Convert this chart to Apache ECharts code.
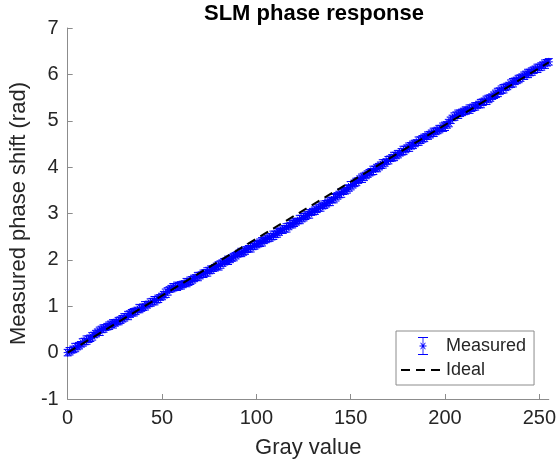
<!DOCTYPE html>
<html>
<head>
<meta charset="utf-8">
<script src="https://cdn.jsdelivr.net/npm/echarts@6/dist/echarts.min.js"></script>
<style>
  html, body { margin: 0; padding: 0; background: #fff; }
  #chart { width: 559px; height: 467px; }
</style>
</head>
<body>
<div id="chart"></div>
<script>
// gray levels 0..255
var grayLevels = [
  0, 1, 2, 3, 4, 5, 6, 7, 8, 9,
  10, 11, 12, 13, 14, 15, 16, 17, 18, 19,
  20, 21, 22, 23, 24, 25, 26, 27, 28, 29,
  30, 31, 32, 33, 34, 35, 36, 37, 38, 39,
  40, 41, 42, 43, 44, 45, 46, 47, 48, 49,
  50, 51, 52, 53, 54, 55, 56, 57, 58, 59,
  60, 61, 62, 63, 64, 65, 66, 67, 68, 69,
  70, 71, 72, 73, 74, 75, 76, 77, 78, 79,
  80, 81, 82, 83, 84, 85, 86, 87, 88, 89,
  90, 91, 92, 93, 94, 95, 96, 97, 98, 99,
  100, 101, 102, 103, 104, 105, 106, 107, 108, 109,
  110, 111, 112, 113, 114, 115, 116, 117, 118, 119,
  120, 121, 122, 123, 124, 125, 126, 127, 128, 129,
  130, 131, 132, 133, 134, 135, 136, 137, 138, 139,
  140, 141, 142, 143, 144, 145, 146, 147, 148, 149,
  150, 151, 152, 153, 154, 155, 156, 157, 158, 159,
  160, 161, 162, 163, 164, 165, 166, 167, 168, 169,
  170, 171, 172, 173, 174, 175, 176, 177, 178, 179,
  180, 181, 182, 183, 184, 185, 186, 187, 188, 189,
  190, 191, 192, 193, 194, 195, 196, 197, 198, 199,
  200, 201, 202, 203, 204, 205, 206, 207, 208, 209,
  210, 211, 212, 213, 214, 215, 216, 217, 218, 219,
  220, 221, 222, 223, 224, 225, 226, 227, 228, 229,
  230, 231, 232, 233, 234, 235, 236, 237, 238, 239,
  240, 241, 242, 243, 244, 245, 246, 247, 248, 249,
  250, 251, 252, 253, 254, 255
];
// measured phase shift (rad)
var measuredPhase = [
  0.00, 0.03, 0.05, 0.07, 0.11, 0.13, 0.15, 0.18, 0.22, 0.24,
  0.27, 0.29, 0.31, 0.35, 0.38, 0.41, 0.44, 0.46, 0.50, 0.52,
  0.54, 0.56, 0.58, 0.61, 0.62, 0.64, 0.66, 0.68, 0.70, 0.73,
  0.76, 0.78, 0.80, 0.83, 0.86, 0.87, 0.89, 0.92, 0.95, 0.96,
  0.98, 1.01, 1.03, 1.05, 1.08, 1.10, 1.12, 1.14, 1.16, 1.19,
  1.21, 1.25, 1.28, 1.32, 1.36, 1.38, 1.41, 1.42, 1.43, 1.44,
  1.45, 1.47, 1.49, 1.51, 1.52, 1.55, 1.57, 1.60, 1.62, 1.64,
  1.66, 1.68, 1.70, 1.72, 1.74, 1.77, 1.79, 1.81, 1.83, 1.86,
  1.87, 1.90, 1.93, 1.96, 1.98, 1.99, 2.01, 2.04, 2.06, 2.09,
  2.12, 2.14, 2.16, 2.17, 2.20, 2.22, 2.24, 2.26, 2.29, 2.31,
  2.33, 2.35, 2.37, 2.39, 2.41, 2.44, 2.46, 2.48, 2.50, 2.53,
  2.55, 2.58, 2.60, 2.63, 2.65, 2.67, 2.69, 2.72, 2.75, 2.77,
  2.80, 2.82, 2.84, 2.87, 2.89, 2.92, 2.94, 2.97, 2.99, 3.02,
  3.04, 3.06, 3.09, 3.12, 3.14, 3.16, 3.19, 3.21, 3.24, 3.26,
  3.29, 3.32, 3.35, 3.38, 3.41, 3.44, 3.47, 3.49, 3.52, 3.55,
  3.60, 3.62, 3.65, 3.68, 3.71, 3.74, 3.76, 3.79, 3.82, 3.85,
  3.88, 3.90, 3.93, 3.96, 3.98, 4.01, 4.04, 4.07, 4.09, 4.12,
  4.15, 4.18, 4.20, 4.23, 4.25, 4.28, 4.30, 4.33, 4.36, 4.38,
  4.41, 4.43, 4.46, 4.48, 4.51, 4.53, 4.56, 4.58, 4.61, 4.63,
  4.66, 4.68, 4.70, 4.73, 4.75, 4.77, 4.79, 4.82, 4.84, 4.86,
  4.88, 4.91, 4.95, 5.01, 5.06, 5.09, 5.12, 5.14, 5.16, 5.18,
  5.20, 5.22, 5.23, 5.25, 5.27, 5.29, 5.31, 5.33, 5.35, 5.37,
  5.40, 5.42, 5.44, 5.47, 5.49, 5.52, 5.55, 5.58, 5.61, 5.64,
  5.67, 5.69, 5.72, 5.74, 5.77, 5.80, 5.82, 5.85, 5.87, 5.90,
  5.92, 5.95, 5.97, 6.00, 6.02, 6.04, 6.06, 6.09, 6.11, 6.13,
  6.15, 6.17, 6.20, 6.22, 6.25, 6.27
];
// error bar half heights (rad)
var phaseError = [
  0.07, 0.08, 0.06, 0.07, 0.09, 0.07, 0.07, 0.06, 0.08, 0.07,
  0.09, 0.07, 0.07, 0.08, 0.06, 0.07, 0.07, 0.09, 0.07, 0.08,
  0.06, 0.07, 0.08, 0.07, 0.09, 0.07, 0.06, 0.08, 0.07, 0.07,
  0.08, 0.06, 0.09, 0.07, 0.07, 0.08, 0.07, 0.06, 0.09, 0.07,
  0.07, 0.09, 0.07, 0.06, 0.08, 0.07, 0.09, 0.07, 0.08, 0.06,
  0.07, 0.07, 0.09, 0.08, 0.06, 0.07, 0.08, 0.07, 0.09, 0.07,
  0.08, 0.07, 0.06, 0.09, 0.07, 0.08, 0.07, 0.07, 0.06, 0.09,
  0.07, 0.06, 0.08, 0.07, 0.09, 0.07, 0.08, 0.06, 0.07, 0.07,
  0.09, 0.08, 0.07, 0.07, 0.06, 0.09, 0.07, 0.07, 0.08, 0.07,
  0.06, 0.07, 0.09, 0.07, 0.08, 0.06, 0.07, 0.09, 0.07, 0.08,
  0.07, 0.07, 0.08, 0.09, 0.06, 0.07, 0.07, 0.08, 0.07, 0.09,
  0.07, 0.09, 0.07, 0.06, 0.08, 0.07, 0.09, 0.07, 0.06, 0.08,
  0.08, 0.07, 0.06, 0.09, 0.07, 0.08, 0.07, 0.07, 0.09, 0.06,
  0.07, 0.08, 0.07, 0.07, 0.09, 0.06, 0.08, 0.07, 0.07, 0.09,
  0.06, 0.09, 0.08, 0.07, 0.07, 0.09, 0.06, 0.07, 0.08, 0.07,
  0.09, 0.07, 0.07, 0.08, 0.06, 0.07, 0.09, 0.08, 0.07, 0.07,
  0.07, 0.07, 0.09, 0.06, 0.08, 0.07, 0.07, 0.09, 0.07, 0.06,
  0.08, 0.06, 0.07, 0.09, 0.07, 0.08, 0.06, 0.07, 0.09, 0.07,
  0.07, 0.09, 0.07, 0.08, 0.07, 0.06, 0.09, 0.07, 0.07, 0.08,
  0.06, 0.08, 0.07, 0.07, 0.09, 0.07, 0.07, 0.08, 0.06, 0.09,
  0.09, 0.07, 0.08, 0.07, 0.06, 0.08, 0.07, 0.09, 0.07, 0.07,
  0.07, 0.08, 0.06, 0.09, 0.07, 0.07, 0.08, 0.06, 0.07, 0.09,
  0.07, 0.07, 0.09, 0.08, 0.07, 0.06, 0.07, 0.08, 0.09, 0.07,
  0.08, 0.09, 0.07, 0.07, 0.06, 0.08, 0.09, 0.07, 0.07, 0.08,
  0.07, 0.06, 0.08, 0.07, 0.09, 0.07, 0.08, 0.07, 0.07, 0.09,
  0.07, 0.08, 0.07, 0.09, 0.07, 0.07
];
// ideal response end points
var idealGray = [0, 255];
var idealPhase = [0, 6.26];

var xTicks = [0, 50, 100, 150, 200, 250];

var blue = '#0000ff';
var axisCol = '#8c8c8c';
var textCol = '#262626';
var font = 'Liberation Sans, Arial, Helvetica, sans-serif';

var measuredData = [];
for (var i = 0; i < grayLevels.length; i++) {
  measuredData.push([grayLevels[i], measuredPhase[i], phaseError[i]]);
}
var idealData = [];
for (var j = 0; j < idealGray.length; j++) {
  idealData.push([idealGray[j], idealPhase[j]]);
}

// error bar with asterisk marker
function renderErrorBar(params, api) {
  var x = api.value(0), y = api.value(1), e = api.value(2);
  var c = api.coord([x, y]);
  var top = api.coord([x, y + e]);
  var bot = api.coord([x, y - e]);
  var hw = 4, m = 4, d = 2.9;
  var st = { stroke: blue, lineWidth: 1 };
  function ln(x1, y1, x2, y2) {
    return { type: 'line', shape: { x1: x1, y1: y1, x2: x2, y2: y2 }, style: st };
  }
  return {
    type: 'group',
    children: [
      ln(c[0], top[1], c[0], bot[1]),
      ln(c[0] - hw, top[1], c[0] + hw, top[1]),
      ln(c[0] - hw, bot[1], c[0] + hw, bot[1]),
      ln(c[0] - m, c[1], c[0] + m, c[1]),
      ln(c[0], c[1] - m, c[0], c[1] + m),
      ln(c[0] - d, c[1] - d, c[0] + d, c[1] + d),
      ln(c[0] - d, c[1] + d, c[0] + d, c[1] - d)
    ]
  };
}

var errIcon = 'path://M0,0H10V1H0Z M0,17H10V18H0Z M4.6,0H5.4V18H4.6Z M1.5,8.6H8.5V9.4H1.5Z ' +
  'M2.3,6.1L2.9,5.5L7.7,11.9L7.1,12.5Z M7.1,5.5L7.7,6.1L2.9,12.5L2.3,11.9Z';

var chart = echarts.init(document.getElementById('chart'), null, { renderer: 'canvas' });
var option = {
  backgroundColor: '#ffffff',
  animation: false,
  title: {
    text: 'SLM phase response',
    left: 309,
    textAlign: 'center',
    top: -2,
    textStyle: { fontFamily: font, fontSize: 22, fontWeight: 'bold', color: '#000' }
  },
  legend: {
    orient: 'vertical',
    left: 396,
    top: 331,
    padding: [6, 8, 6, 4],
    itemGap: 6,
    itemWidth: 44,
    itemHeight: 18,
    borderColor: '#8c8c8c',
    borderWidth: 1,
    backgroundColor: '#fff',
    textStyle: { fontFamily: font, fontSize: 18, color: textCol, padding: [0, 0, 0, -4] },
    data: [
      { name: 'Measured', icon: errIcon, itemStyle: { color: blue } },
      { name: 'Ideal' }
    ]
  },
  grid: { left: 66, right: 7, top: 28, bottom: 68 },
  xAxis: {
    type: 'value',
    min: 0,
    max: 255,
    interval: 50,
    name: 'Gray value',
    nameLocation: 'middle',
    nameGap: 38,
    nameTextStyle: { fontFamily: font, fontSize: 22, color: textCol },
    axisLine: { show: true, onZero: false, lineStyle: { color: axisCol, width: 1 } },
    axisTick: { show: true, inside: true, length: 5, customValues: xTicks, lineStyle: { color: axisCol } },
    axisLabel: { customValues: xTicks, fontFamily: font, fontSize: 20, color: textCol, margin: 9 },
    splitLine: { show: false }
  },
  yAxis: {
    type: 'value',
    min: -1,
    max: 7,
    interval: 1,
    name: 'Measured phase shift (rad)',
    nameLocation: 'middle',
    nameGap: 31,
    nameTextStyle: { fontFamily: font, fontSize: 22, color: textCol },
    axisLine: { show: true, lineStyle: { color: axisCol, width: 1 } },
    axisTick: { show: true, inside: true, length: 5, lineStyle: { color: axisCol } },
    axisLabel: { fontFamily: font, fontSize: 20, color: textCol, margin: 9 },
    splitLine: { show: false }
  },
  series: [
    {
      name: 'Measured',
      type: 'custom',
      renderItem: renderErrorBar,
      itemStyle: { color: blue },
      encode: { x: 0, y: 1 },
      data: measuredData,
      z: 2
    },
    {
      name: 'Ideal',
      type: 'line',
      data: idealData,
      symbol: 'circle',
      showSymbol: false,
      lineStyle: { color: '#000', width: 2, type: [9, 6] },
      itemStyle: { color: 'rgba(0,0,0,0)', borderColor: 'rgba(0,0,0,0)' },
      z: 3
    }
  ]
};
chart.setOption(option);
</script>
</body>
</html>
